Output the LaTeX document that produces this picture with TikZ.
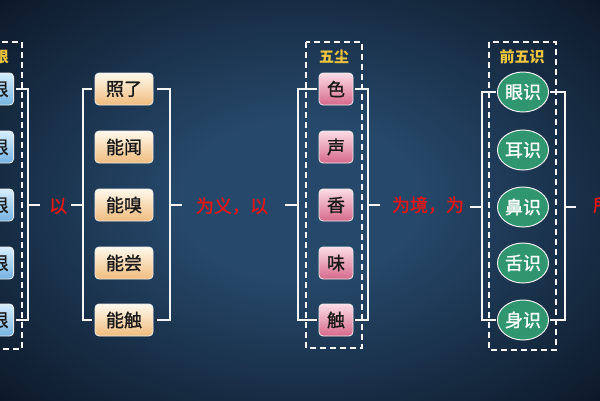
\documentclass[tikz,border=0pt]{standalone}
\usepackage{fontspec}
\setmainfont{Noto Sans CJK SC}
\newfontfamily\medfont{Noto Sans CJK SC}[FakeBold=1.3]
\usetikzlibrary{shapes.geometric}
\definecolor{bgin}{RGB}{38,72,106}
\definecolor{bgout}{RGB}{10,20,34}
\definecolor{bluetop}{RGB}{215,238,252}
\definecolor{bluebot}{RGB}{115,178,225}
\definecolor{peachtop}{RGB}{255,249,236}
\definecolor{peachbot}{RGB}{240,188,125}
\definecolor{pinktop}{RGB}{252,220,230}
\definecolor{pinkbot}{RGB}{214,105,138}
\definecolor{greenell}{RGB}{48,150,112}
\definecolor{redtxt}{RGB}{226,22,22}
\definecolor{yellowtxt}{RGB}{236,196,62}
\definecolor{boxtxt}{RGB}{25,25,25}
\pgfdeclareradialshading{bgshade}{\pgfpoint{0bp}{0bp}}{color(0bp)=(bgin); color(10bp)=(bgin); color(38bp)=(bgout); color(60bp)=(bgout)}
\begin{document}
\begin{tikzpicture}[x=1pt,y=-1pt,
  boxbase/.style={rounded corners=4pt, draw=white!85!gray, line width=0.8pt,
    minimum height=32pt, inner sep=0pt, text=boxtxt, font=\medfont\fontsize{18}{18}\selectfont},
  bluebox/.style={boxbase, top color=bluetop, bottom color=bluebot, minimum width=46pt},
  peachbox/.style={boxbase, top color=peachtop, bottom color=peachbot, minimum width=58pt},
  pinkbox/.style={boxbase, top color=pinktop, bottom color=pinkbot, minimum width=34pt},
  greenbox/.style={ellipse, fill=greenell, draw=white!90!gray, line width=1pt,
    minimum width=51pt, minimum height=40pt, inner sep=0pt, text=white,
    font=\medfont\fontsize{18}{18}\selectfont},
  brk/.style={draw=white!92!gray, line width=1.3pt},
  dbox/.style={draw=white!92!gray, line width=1.6pt, dash pattern=on 6pt off 4pt},
  redlabel/.style={text=redtxt, font=\medfont\fontsize{18}{18}\selectfont, inner sep=0pt},
  ylabel/.style={text=yellowtxt, font=\fontsize{15}{15}\selectfont\bfseries, inner sep=0pt}
]
\useasboundingbox (0,0) rectangle (600,400);
\clip (0,0) rectangle (600,400);
\shade[shading=bgshade] (0,0) rectangle (600,400);

% dashed group frames
\draw[dbox] (-20,42) rectangle (22,349);
\draw[dbox] (306,42) rectangle (362,348);
\draw[dbox] (489,42) rectangle (556,350);

% group labels
\node[ylabel, anchor=east] (l1) at (9,57) {五根};
\node[ylabel] (l3) at (334,57) {五尘};
\node[ylabel] (l4) at (522,57) {前五识};

% column 1 (cut off at the left edge, as in the reference)
\node[bluebox, anchor=east] (a1) at (14,89) {眼根};
\node[bluebox, anchor=east] (a2) at (14,147) {耳根};
\node[bluebox, anchor=east] (a3) at (14,205) {鼻根};
\node[bluebox, anchor=east] (a4) at (14,263) {舌根};
\node[bluebox, anchor=east] (a5) at (14,320) {身根};

% column 2
\node[peachbox] (b1) at (124,89) {照了};
\node[peachbox] (b2) at (124,147) {能闻};
\node[peachbox] (b3) at (124,205) {能嗅};
\node[peachbox] (b4) at (124,263) {能尝};
\node[peachbox] (b5) at (124,320) {能触};

% column 3
\node[pinkbox] (s1) at (336,89) {色};
\node[pinkbox] (s2) at (336,147) {声};
\node[pinkbox] (s3) at (336,205) {香};
\node[pinkbox] (s4) at (336,263) {味};
\node[pinkbox] (s5) at (336,320) {触};

% column 4
\node[greenbox] (e1) at (523,92) {眼识};
\node[greenbox] (e2) at (523,150) {耳识};
\node[greenbox] (e3) at (523,207) {鼻识};
\node[greenbox] (e4) at (523,263) {舌识};
\node[greenbox] (e5) at (523,320) {身识};

% red linking words
\node[redlabel] (r1) at (58,206) {以};
\node[redlabel] (r2) at (232,206) {为义，以};
\node[redlabel] (r3) at (428,205) {为境，为};
\node[redlabel, anchor=west] (r4) at (593,205) {所};

% bracket coordinates
\coordinate (c1r) at (28,205);  \coordinate (t1r) at (40,205);
\coordinate (c2l) at (83,205);  \coordinate (t2l) at (71,205);
\coordinate (c2r) at (170,205); \coordinate (t2r) at (182,205);
\coordinate (c3l) at (298,205); \coordinate (t3l) at (285,205);
\coordinate (c3r) at (368,205); \coordinate (t3r) at (380,205);
\coordinate (c4l) at (482,207); \coordinate (t4l) at (470,207);
\coordinate (c4r) at (565,207); \coordinate (t4r) at (576,207);

\draw[brk] ([xshift=2pt]a1.east) -| (c1r) |- ([xshift=2pt]a5.east);
\draw[brk] (c1r) -- (t1r);
\draw[brk] ([xshift=-3pt]b1.west) -| (c2l) |- ([xshift=-3pt]b5.west);
\draw[brk] (c2l) -- (t2l);
\draw[brk] ([xshift=4pt]b1.east) -| (c2r) |- ([xshift=4pt]b5.east);
\draw[brk] (c2r) -- (t2r);
\draw[brk] ([xshift=-2pt]s1.west) -| (c3l) |- ([xshift=-2pt]s5.west);
\draw[brk] (c3l) -- (t3l);
\draw[brk] ([xshift=2pt]s1.east) -| (c3r) |- ([xshift=2pt]s5.east);
\draw[brk] (c3r) -- (t3r);
\draw[brk] ([xshift=-1pt]e1.west) -| (c4l) |- ([xshift=-1pt]e5.west);
\draw[brk] (c4l) -- (t4l);
\draw[brk] ([xshift=1pt]e1.east) -| (c4r) |- ([xshift=1pt]e5.east);
\draw[brk] (c4r) -- (t4r);
\end{tikzpicture}
\end{document}
